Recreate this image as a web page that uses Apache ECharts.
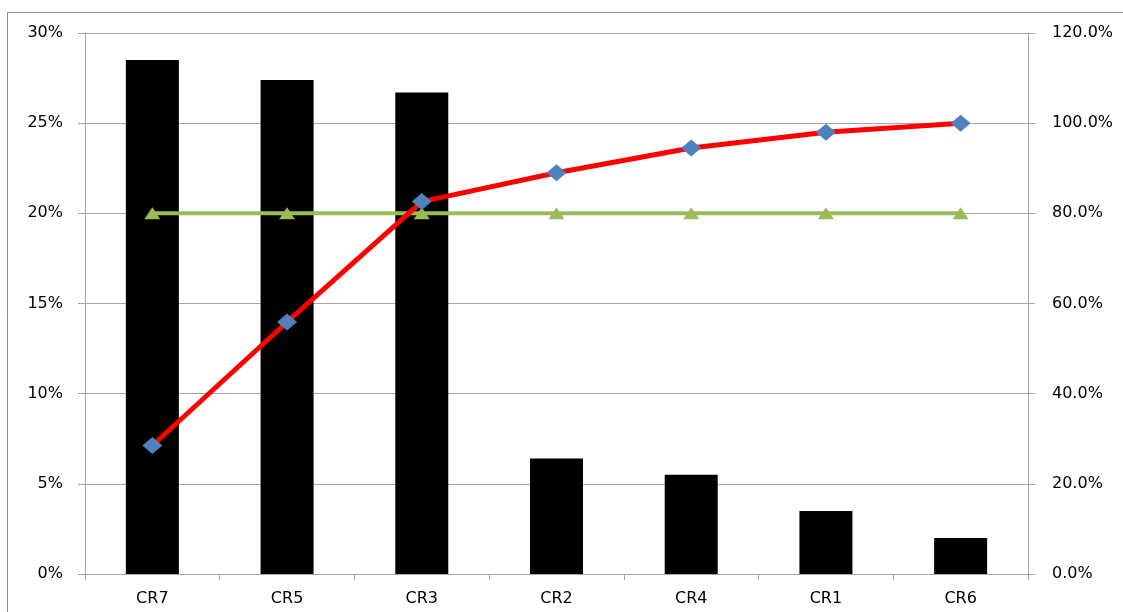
<!DOCTYPE html>
<html>
<head>
<meta charset="utf-8">
<script src="https://cdn.jsdelivr.net/npm/echarts@6/dist/echarts.min.js"></script>
<style>
  html, body { margin: 0; padding: 0; background: #fff; }
  #chart { width: 1123px; height: 612px; }
</style>
</head>
<body>
<div id="chart"></div>
<script>
// Pareto chart: share per category (bars, left axis) and running total (line, right axis)
const categories = ['CR7', 'CR5', 'CR3', 'CR2', 'CR4', 'CR1', 'CR6'];
const shares = [28.5, 27.4, 26.7, 6.4, 5.5, 3.5, 2.0];          // % of total
const cumulative = [28.5, 55.9, 82.6, 89.0, 94.5, 98.0, 100.0];  // running total, %
const threshold = [80, 80, 80, 80, 80, 80, 80];                  // 80% reference line
const leftTicks = { min: 0, max: 30, interval: 5 };
const rightTicks = { min: 0, max: 120, interval: 20 };

const gray = '#a6a6a6';
const font = "'DejaVu Sans', Verdana, sans-serif";
const fontSize = 16;

const chart = echarts.init(document.getElementById('chart'), null, { renderer: 'canvas' });
chart.setOption({
  animation: false,
  backgroundColor: '#fff',
  graphic: [{
    type: 'rect',
    shape: { x: 7.5, y: 12.5, width: 1130, height: 620 },
    style: { fill: 'none', stroke: '#8c8c8c', lineWidth: 1 },
    silent: true
  }],
  grid: { left: 85, right: 95, top: 33, bottom: 38, containLabel: false },
  xAxis: {
    type: 'category',
    data: categories,
    axisLine: { show: true, lineStyle: { color: gray, width: 1 } },
    axisTick: { show: true, alignWithLabel: false, length: 6, lineStyle: { color: gray } },
    axisLabel: { color: '#000', fontFamily: font, fontSize: fontSize, margin: 17 }
  },
  yAxis: [{
    type: 'value',
    position: 'left',
    min: leftTicks.min, max: leftTicks.max, interval: leftTicks.interval,
    axisLine: { show: true, lineStyle: { color: gray } },
    axisTick: { show: true, length: 7, lineStyle: { color: gray } },
    axisLabel: { color: '#000', fontFamily: font, fontSize: fontSize, margin: 22, formatter: v => v + '%' },
    splitLine: { show: true, lineStyle: { color: gray, width: 1 } }
  }, {
    type: 'value',
    position: 'right',
    min: rightTicks.min, max: rightTicks.max, interval: rightTicks.interval,
    axisLine: { show: true, lineStyle: { color: gray } },
    axisTick: { show: true, length: 7, lineStyle: { color: gray } },
    axisLabel: { color: '#000', fontFamily: font, fontSize: fontSize, margin: 24, formatter: v => v.toFixed(1) + '%' },
    splitLine: { show: false }
  }],
  series: [{
    name: 'Share',
    type: 'bar',
    yAxisIndex: 0,
    data: shares,
    barWidth: 53,
    itemStyle: { color: '#000' },
    z: 1
  }, {
    name: '80%',
    type: 'line',
    yAxisIndex: 1,
    data: threshold,
    symbol: 'triangle',
    symbolSize: [16, 12],
    lineStyle: { color: '#9bbb59', width: 4 },
    itemStyle: { color: '#9bbb59' },
    z: 3
  }, {
    name: 'Cumulative',
    type: 'line',
    yAxisIndex: 1,
    data: cumulative,
    symbol: 'diamond',
    symbolSize: [20, 17],
    lineStyle: { color: '#ff0000', width: 5 },
    itemStyle: { color: '#4f81bd' },
    z: 4
  }]
});
</script>
</body>
</html>
